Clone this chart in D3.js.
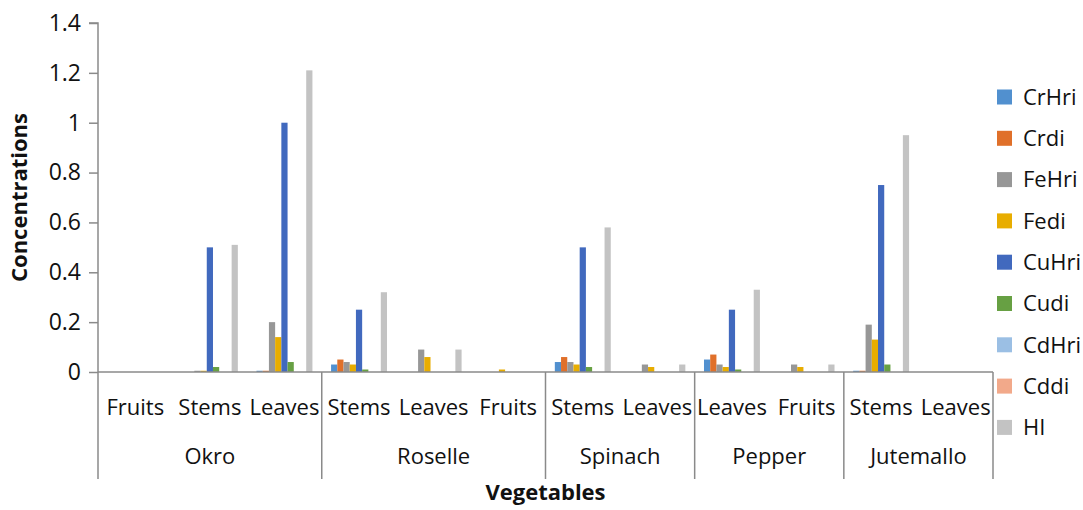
<!DOCTYPE html>
<html>
<head>
<meta charset="utf-8">
<script src="https://cdn.jsdelivr.net/npm/d3@7"></script>
<style>
  html, body { margin: 0; padding: 0; background: #fff; }
  svg { display: block; font-family: "Open Sans", "Noto Sans", sans-serif; }
</style>
</head>
<body>
<svg id="chart" width="1083" height="510"></svg>
<script>
// ---- data ----
const subCategories = ["Fruits","Stems","Leaves","Stems","Leaves","Fruits","Stems","Leaves","Leaves","Fruits","Stems","Leaves"];
const groups = ["Okro","Roselle","Spinach","Pepper","Jutemallo"];
const groupSizes = [3, 3, 2, 2, 2];
const seriesNames = ["CrHri","Crdi","FeHri","Fedi","CuHri","Cudi","CdHri","Cddi","HI"];
const CrHri = [0, 0, 0.005, 0.03, 0, 0, 0.04, 0, 0.05, 0, 0.005, 0];
const Crdi  = [0, 0, 0.005, 0.05, 0, 0, 0.06, 0, 0.07, 0, 0.005, 0];
const FeHri = [0, 0.005, 0.2, 0.04, 0.09, 0, 0.04, 0.03, 0.03, 0.03, 0.19, 0];
const Fedi  = [0, 0.005, 0.14, 0.03, 0.06, 0.01, 0.03, 0.02, 0.02, 0.02, 0.13, 0];
const CuHri = [0, 0.5, 1.0, 0.25, 0, 0, 0.5, 0, 0.25, 0, 0.75, 0];
const Cudi  = [0, 0.02, 0.04, 0.01, 0, 0, 0.02, 0, 0.01, 0, 0.03, 0];
const CdHri = [0, 0, 0, 0, 0, 0, 0, 0, 0, 0, 0, 0];
const Cddi  = [0, 0, 0, 0, 0, 0, 0, 0, 0, 0, 0, 0];
const HI    = [0, 0.51, 1.21, 0.32, 0.09, 0, 0.58, 0.03, 0.33, 0.03, 0.95, 0];
const yTicks = [0, 0.2, 0.4, 0.6, 0.8, 1, 1.2, 1.4];
const seriesColors = ["#5190cf","#e0702a","#979797","#e8ad00","#4169be","#67a043","#9bbfe4","#f2a98a","#c3c3c3"];

const seriesValues = [CrHri, Crdi, FeHri, Fedi, CuHri, Cudi, CdHri, Cddi, HI];

// ---- layout ----
const svg = d3.select("#chart");
const plotLeft = 98, plotRight = 993, plotTop = 23, plotBottom = 372;
const axisColor = "#8a8a8a";
const fontSize = 22;

const y = d3.scaleLinear().domain([0, 1.4]).range([plotBottom, plotTop]);
const idx = subCategories.map((d, i) => i);
const x0 = d3.scaleBand().domain(idx).range([plotLeft, plotRight]).padding(0);
const x1 = d3.scaleBand().domain(seriesNames).range([0, x0.bandwidth()]).paddingInner(0).paddingOuter(1.5);

// bars
const barG = svg.append("g");
seriesNames.forEach((s, si) => {
  barG.selectAll(null)
    .data(seriesValues[si].map((v, i) => ({ v, i })))
    .join("rect")
    .attr("x", d => x0(d.i) + x1(s))
    .attr("width", x1.bandwidth())
    .attr("y", d => y(d.v))
    .attr("height", d => plotBottom - y(d.v))
    .attr("fill", seriesColors[si]);
});

// y axis
const yAxis = d3.axisLeft(y).tickValues(yTicks).tickSize(9).tickPadding(8)
  .tickFormat(d => d3.format("")(+d.toFixed(1)));
const yg = svg.append("g").attr("transform", `translate(${plotLeft},0)`).call(yAxis);
yg.select(".domain").attr("stroke", axisColor).attr("stroke-width", 1.5).attr("d", `M-9,${plotTop}H0V${plotBottom}`);
yg.selectAll(".tick line").attr("stroke", axisColor).attr("stroke-width", 1.5);
yg.selectAll(".tick text").attr("font-size", 23).attr("fill", "#111").attr("font-family", "Open Sans");

// x axis line
svg.append("line").attr("x1", plotLeft).attr("x2", plotRight).attr("y1", plotBottom).attr("y2", plotBottom)
  .attr("stroke", axisColor).attr("stroke-width", 1.5);

// sub category labels
svg.append("g").selectAll("text").data(idx).join("text")
  .attr("x", d => x0(d) + x0.bandwidth() / 2)
  .attr("y", 415)
  .attr("text-anchor", "middle")
  .attr("font-size", fontSize)
  .attr("fill", "#111")
  .text(d => subCategories[d]);

// group separators and labels
let start = 0;
const bounds = [0];
groupSizes.forEach(n => { start += n; bounds.push(start); });
svg.append("g").selectAll("line").data(bounds).join("line")
  .attr("x1", d => d < idx.length ? x0(d) : plotRight)
  .attr("x2", d => d < idx.length ? x0(d) : plotRight)
  .attr("y1", plotBottom).attr("y2", 479)
  .attr("stroke", axisColor).attr("stroke-width", 1.5);
svg.append("g").selectAll("text").data(groups).join("text")
  .attr("x", (g, gi) => {
    const a = x0(bounds[gi]);
    const b = bounds[gi + 1] < idx.length ? x0(bounds[gi + 1]) : plotRight;
    return (a + b) / 2;
  })
  .attr("y", 464)
  .attr("text-anchor", "middle")
  .attr("font-size", fontSize)
  .attr("fill", "#111")
  .text(d => d);

// axis titles
svg.append("text")
  .attr("x", (plotLeft + plotRight) / 2).attr("y", 500)
  .attr("text-anchor", "middle").attr("font-size", 22).attr("font-weight", "bold").attr("fill", "#111")
  .text("Vegetables");
svg.append("text")
  .attr("transform", `translate(27,${(plotTop + plotBottom) / 2}) rotate(-90)`)
  .attr("text-anchor", "middle").attr("font-size", 22).attr("font-weight", "bold").attr("fill", "#111")
  .text("Concentrations");

// legend
const legend = svg.append("g").selectAll("g").data(seriesNames).join("g")
  .attr("transform", (d, i) => `translate(997,${97 + i * 41.3})`);
legend.append("rect").attr("y", -7.5).attr("width", 15).attr("height", 15).attr("fill", (d, i) => seriesColors[i]);
legend.append("text").attr("x", 26).attr("y", 0).attr("dy", "0.35em")
  .attr("font-size", fontSize).attr("fill", "#111").text(d => d);
</script>
</body>
</html>
